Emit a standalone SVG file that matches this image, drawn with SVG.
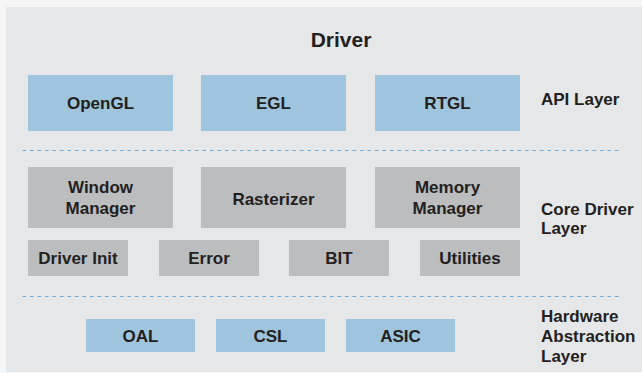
<svg xmlns="http://www.w3.org/2000/svg" width="642" height="373" viewBox="0 0 642 373">
  <style>
    text { font-family: "Liberation Sans", Arial, sans-serif; font-weight: bold; fill: #231f20; }
    .lbl { font-size: 17px; text-anchor: middle; }
    .side { font-size: 17px; }
    .title { font-size: 21px; text-anchor: middle; }
    .api { fill: #9fc4de; }
    .core { fill: #bcbdbf; }
    .sep { stroke: #6aa8da; stroke-width: 1; stroke-dasharray: 3.5 4; fill: none; }
  </style>
  <!-- page and panel -->
  <rect x="0" y="0" width="642" height="373" fill="#f5f5f5"/>
  <rect x="6" y="7" width="636" height="365" fill="#e6e7e8"/>

  <text class="title" x="341" y="47">Driver</text>

  <!-- layer separators -->
  <g id="connectors">
    <line class="sep" x1="22.5" y1="150.5" x2="620" y2="150.5"/>
    <line class="sep" x1="22.5" y1="296.5" x2="620" y2="296.5"/>
  </g>

  <!-- API layer -->
  <g id="opengl"><rect class="api" x="28" y="75" width="145" height="56"/><text class="lbl" x="100.5" y="109">OpenGL</text></g>
  <g id="egl"><rect class="api" x="201" y="75" width="145" height="56"/><text class="lbl" x="273.5" y="109">EGL</text></g>
  <g id="rtgl"><rect class="api" x="375" y="75" width="145" height="56"/><text class="lbl" x="447.5" y="109">RTGL</text></g>
  <text class="side" x="541" y="105">API Layer</text>

  <!-- core driver layer -->
  <g id="window-manager"><rect class="core" x="28" y="167" width="145" height="61"/><text class="lbl" x="100.5" y="193">Window</text><text class="lbl" x="100.5" y="214">Manager</text></g>
  <g id="rasterizer"><rect class="core" x="201" y="167" width="145" height="61"/><text class="lbl" x="273.5" y="205">Rasterizer</text></g>
  <g id="memory-manager"><rect class="core" x="375" y="167" width="145" height="61"/><text class="lbl" x="447.5" y="193">Memory</text><text class="lbl" x="447.5" y="214">Manager</text></g>
  <g id="driver-init"><rect class="core" x="28" y="240" width="100" height="36"/><text class="lbl" x="78" y="264">Driver Init</text></g>
  <g id="error"><rect class="core" x="159" y="240" width="100" height="36"/><text class="lbl" x="209" y="264">Error</text></g>
  <g id="bit"><rect class="core" x="289" y="240" width="100" height="36"/><text class="lbl" x="339" y="264">BIT</text></g>
  <g id="utilities"><rect class="core" x="420" y="240" width="100" height="36"/><text class="lbl" x="470" y="264">Utilities</text></g>
  <text class="side" x="541" y="215">Core Driver</text>
  <text class="side" x="541" y="234">Layer</text>

  <!-- hardware abstraction layer -->
  <g id="oal"><rect class="api" x="86" y="319" width="109" height="33"/><text class="lbl" x="140.5" y="342">OAL</text></g>
  <g id="csl"><rect class="api" x="216" y="319" width="109" height="33"/><text class="lbl" x="270.5" y="342">CSL</text></g>
  <g id="asic"><rect class="api" x="346" y="319" width="109" height="33"/><text class="lbl" x="400.5" y="342">ASIC</text></g>
  <text class="side" x="541" y="322">Hardware</text>
  <text class="side" x="541" y="342">Abstraction</text>
  <text class="side" x="541" y="362">Layer</text>
</svg>
